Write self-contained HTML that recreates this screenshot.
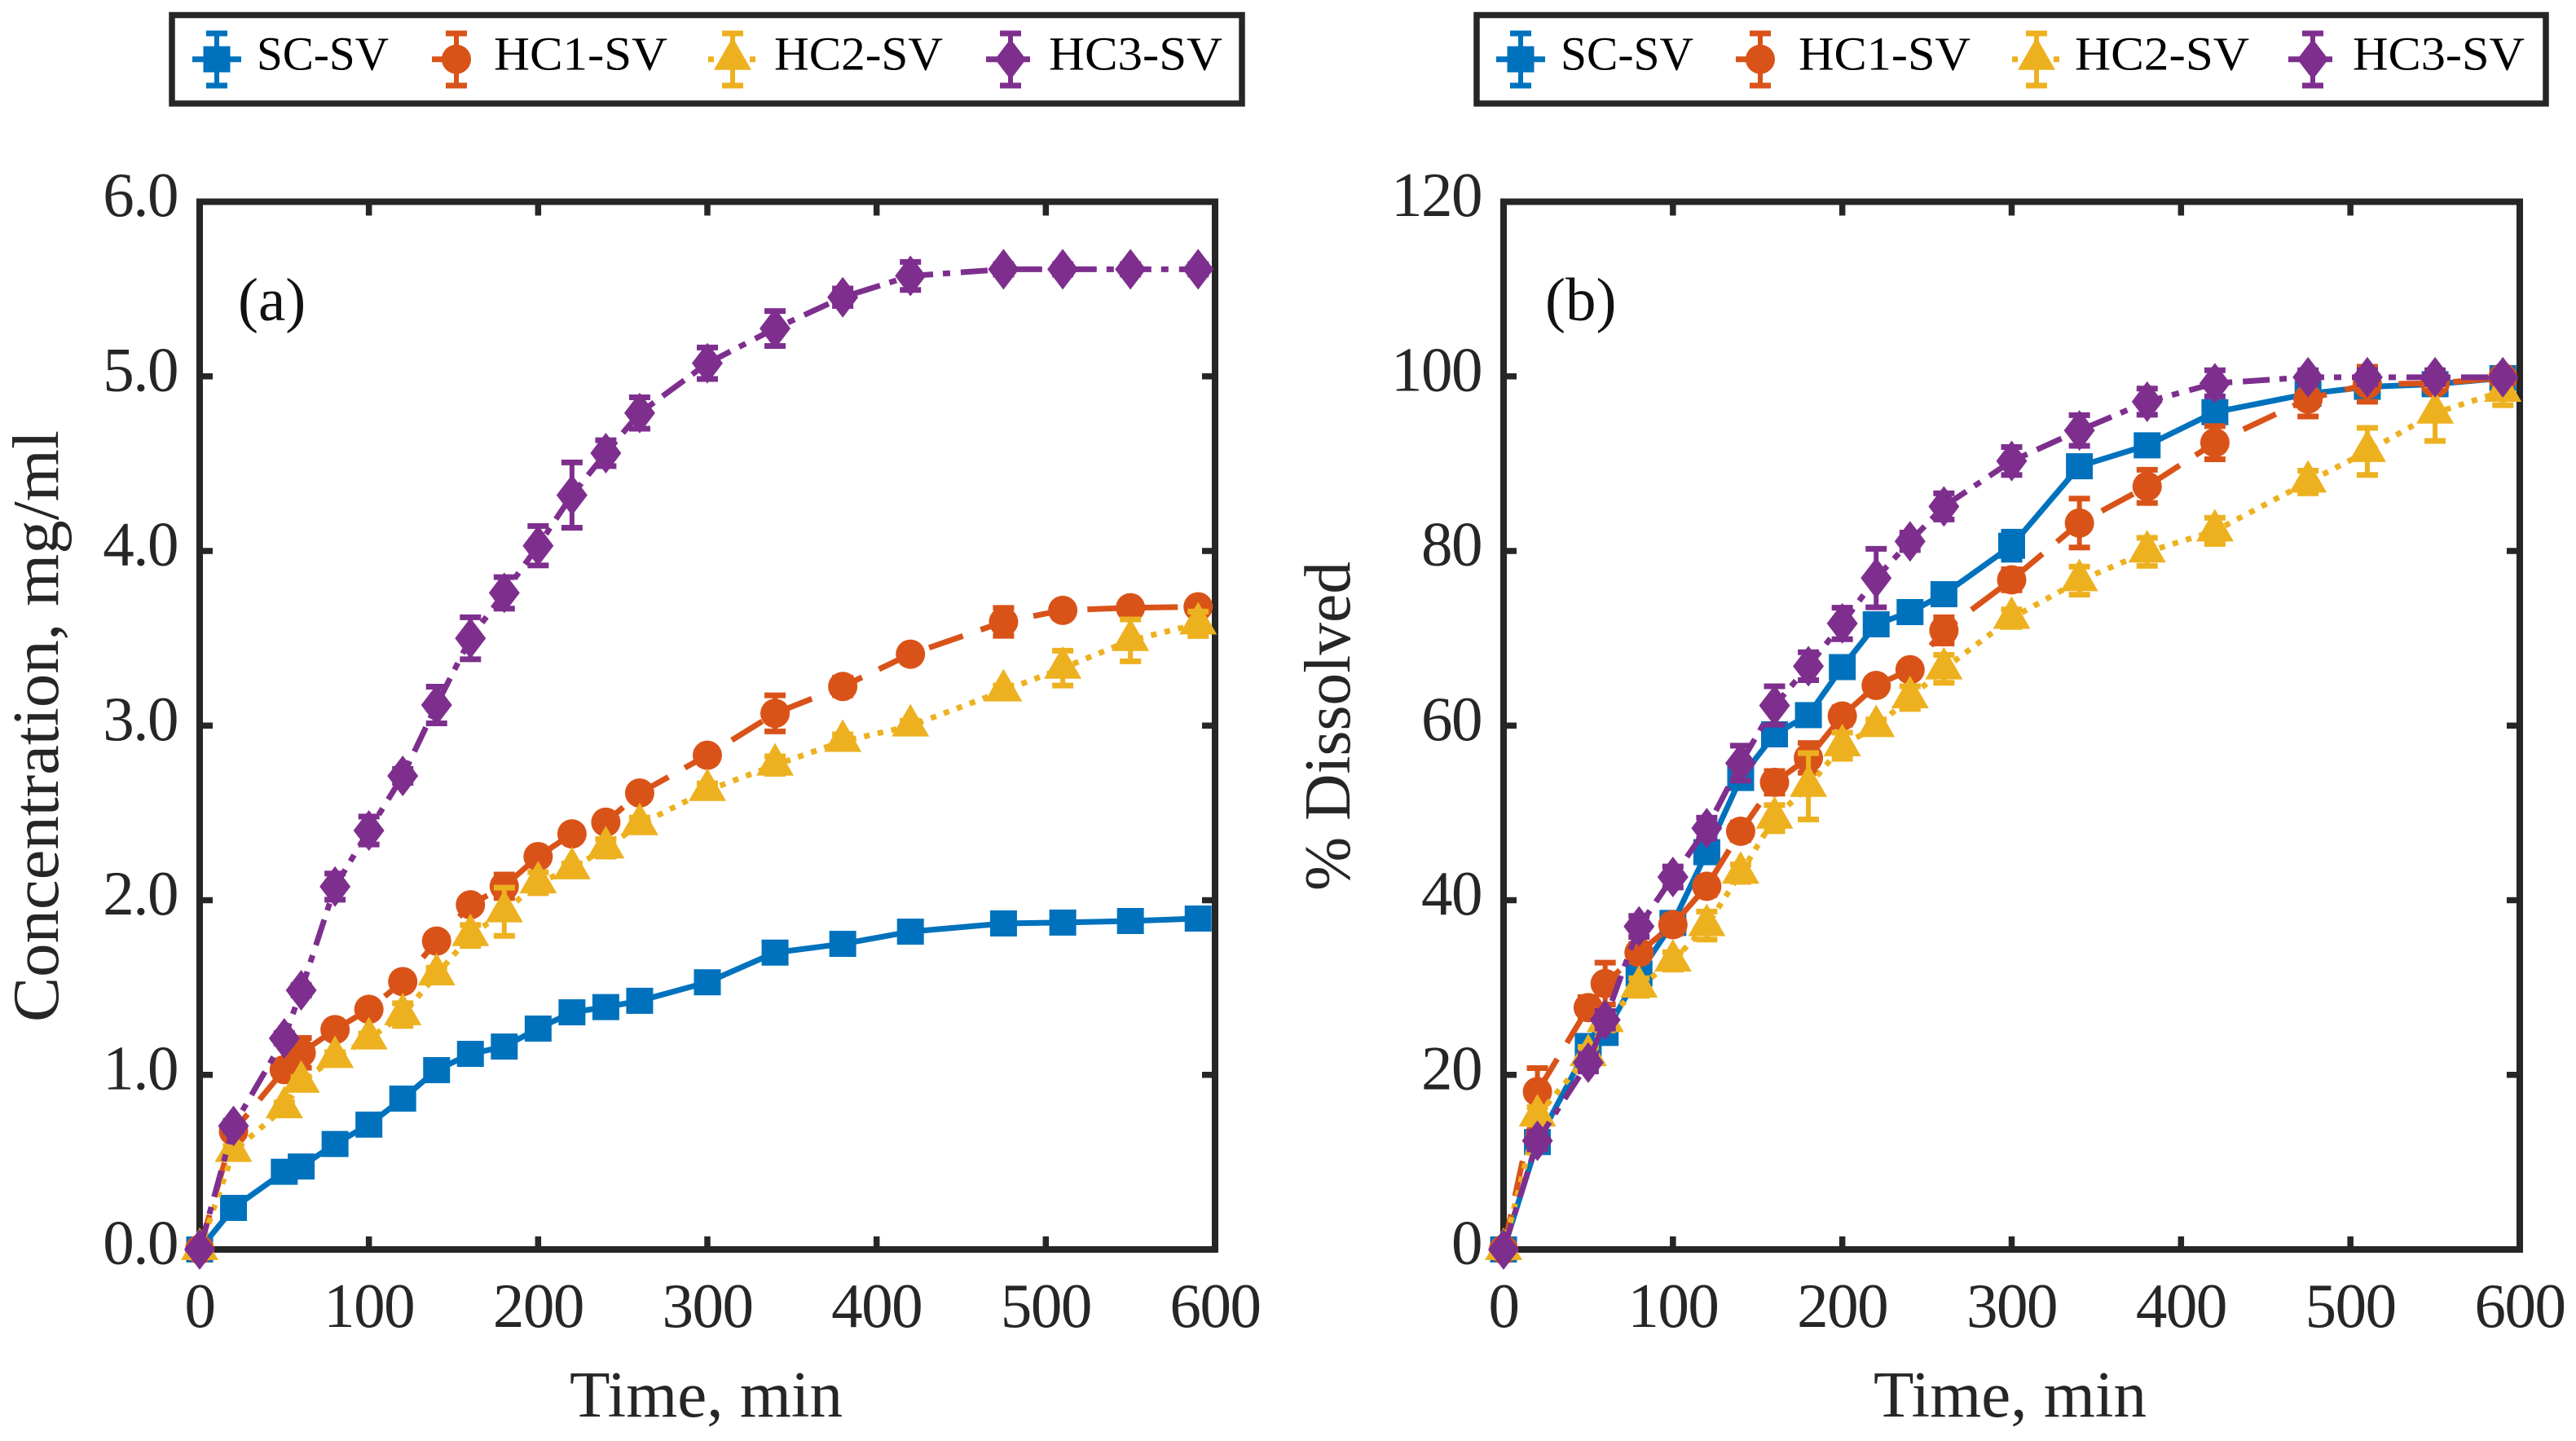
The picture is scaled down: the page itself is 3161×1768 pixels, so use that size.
<!DOCTYPE html>
<html lang="en">
<head>
<meta charset="utf-8">
<title>Concentration and dissolution profiles</title>
<style>
  html,body{margin:0;padding:0;background:#fff;width:3161px;height:1768px;overflow:hidden}
  svg{display:block}
  text{font-family:"Liberation Serif",serif}
</style>
</head>
<body>
<svg id="fig" xmlns="http://www.w3.org/2000/svg" width="3161" height="1768" viewBox="0 0 3161 1768"></svg>
<script>
const times = [0,20,50,60,80,100,120,140,160,180,200,220,240,260,300,340,380,420,475,510,550,590];

const concSC  = [0,0.238,0.445,0.475,0.604,0.715,0.864,1.027,1.12,1.162,1.265,1.358,1.388,1.424,1.53,1.70,1.75,1.82,1.867,1.872,1.881,1.895];
const concHC1 = [0,0.677,1.03,1.126,1.259,1.375,1.534,1.766,1.974,2.08,2.25,2.38,2.447,2.614,2.83,3.07,3.224,3.409,3.594,3.66,3.675,3.68];
const concHC2 = [0,0.562,0.812,0.958,1.10,1.206,1.345,1.573,1.798,1.934,2.10,2.18,2.30,2.433,2.629,2.774,2.91,2.998,3.199,3.329,3.488,3.583];
const concHC3 = [0,0.707,1.209,1.484,2.078,2.399,2.712,3.118,3.50,3.76,4.03,4.32,4.56,4.79,5.075,5.274,5.453,5.575,5.613,5.613,5.613,5.613];

const concErrSC  = [0,0.02,0.03,0.02,0.02,0.02,0.03,0.03,0.03,0.03,0.03,0.03,0.03,0.03,0.03,0.03,0.03,0.03,0.03,0.02,0.02,0.02];
const concErrHC1 = [0,0.03,0.04,0.085,0.03,0.03,0.03,0.04,0.03,0.067,0.03,0.03,0.03,0.04,0.03,0.103,0.05,0.03,0.08,0.04,0.03,0.03];
const concErrHC2 = [0,0.03,0.03,0.03,0.03,0.03,0.065,0.04,0.06,0.138,0.06,0.03,0.05,0.04,0.04,0.05,0.04,0.03,0.03,0.10,0.12,0.07];
const concErrHC3 = [0,0.03,0.03,0.03,0.075,0.08,0.04,0.105,0.12,0.09,0.113,0.187,0.074,0.09,0.09,0.10,0.05,0.08,0.03,0.03,0.03,0.03];

const dissSC  = [0,12.3,23.3,24.8,31.6,37.4,45.5,54,59,61.2,66.7,71.6,73,75.05,80.6,89.7,92.1,95.9,98,98.8,99.1,99.8];
const dissHC1 = [0,18.07,27.7,30.45,34,37.2,41.6,47.9,53.5,56.3,61.1,64.6,66.4,70.9,76.7,83.2,87.4,92.4,97.4,99.1,99.2,99.85];
const dissHC2 = [0,15.3,22.2,26.1,30.06,33.05,37.1,43.1,49.4,53.05,57.7,59.9,63.2,66.5,72.3,76.6,79.9,82.3,87.9,91.4,95.8,98.3];
const dissHC3 = [0,12.45,21.4,26.3,37,42.66,48.25,55.7,62.3,66.8,71.7,76.9,81.1,85.1,90.3,93.8,97.1,99.2,99.9,99.9,99.9,99.9];

const dissErrSC  = [0,1,1,1,1,1,1,1,1,1,1,1,0.8,0.8,1.6,1,1,1,1,0.8,0.6,0.6];
const dissErrHC1 = [0,2.7,1.2,2.4,1,1,1,1,1.3,1.7,1,0.8,0.8,1.5,1.2,2.8,1.9,1.9,2,2,0.6,0.4];
const dissErrHC2 = [0,1,1,1,1,1,1.6,1,1.5,3.8,1.5,0.8,1.3,1.6,1,1.6,1.6,1.5,1.3,2.7,3.2,1.6];
const dissErrHC3 = [0,1,1,1,1.2,1.2,1.2,2,2.2,1.6,1.8,3.35,1,1.5,1.6,1.76,1.5,1.5,0.8,0.8,0.8,0.6];

const xTickLabels = ["0","100","200","300","400","500","600"];
const xTickValues = [0,100,200,300,400,500,600];
const concTickLabels = ["0.0","1.0","2.0","3.0","4.0","5.0","6.0"];
const concTickValues = [0,1,2,3,4,5,6];
const dissTickLabels = ["0","20","40","60","80","100","120"];
const dissTickValues = [0,20,40,60,80,100,120];
const seriesNames = ["SC-SV","HC1-SV","HC2-SV","HC3-SV"];

const SVGNS = "http://www.w3.org/2000/svg";
const INK = "#262626";
const STYLES = [
  {color:"#0072BD", dash:"", marker:"square"},
  {color:"#D95319", dash:"44 23", marker:"circle"},
  {color:"#EDB120", dash:"7 10", marker:"triangle"},
  {color:"#7E2F8E", dash:"33 12 9 13", marker:"diamond"}
];
const fig = document.getElementById("fig");

function mk(tag, attrs, parent, txt){
  const e = document.createElementNS(SVGNS, tag);
  for (const k in attrs) e.setAttribute(k, attrs[k]);
  if (txt !== undefined) e.textContent = txt;
  (parent || fig).appendChild(e);
  return e;
}

function drawMarker(parent, kind, cx, cy, color){
  let m;
  if (kind === "square") m = mk("rect",{x:cx-16.5,y:cy-16,width:33,height:32,fill:color},parent);
  if (kind === "circle") m = mk("ellipse",{cx:cx,cy:cy,rx:18,ry:18,fill:color},parent);
  if (kind === "triangle") m = mk("polygon",{points:`${cx},${cy-27} ${cx+23},${cy+13} ${cx-23},${cy+13}`,fill:color},parent);
  if (kind === "diamond") m = mk("polygon",{points:`${cx},${cy-25} ${cx+19},${cy} ${cx},${cy+25} ${cx-19},${cy}`,fill:color},parent);
  return m;
}

function drawErrorBar(parent, cx, yLo, yHi, color){
  const g = mk("g",{},parent);
  mk("line",{x1:cx,x2:cx,y1:yLo,y2:yHi,stroke:color,"stroke-width":6},g);
  mk("line",{x1:cx-13,x2:cx+13,y1:yLo,y2:yLo,stroke:color,"stroke-width":7},g);
  mk("line",{x1:cx-13,x2:cx+13,y1:yHi,y2:yHi,stroke:color,"stroke-width":7},g);
  return g;
}

function drawPanel(cfg){
  const panel = mk("g",{});
  
  
  const L = cfg.left, R = cfg.right, T = 247.5, B = 1533;
  const sx = v => L + (v / 600) * (R - L);
  const sy = v => B - (v / cfg.yMax) * (B - T);

  const ticks = mk("g",{},panel);
  
  
  xTickValues.forEach(v => {
    mk("line",{x1:sx(v),x2:sx(v),y1:B,y2:B-16,stroke:INK,"stroke-width":7.5},ticks);
    mk("line",{x1:sx(v),x2:sx(v),y1:T,y2:T+17,stroke:INK,"stroke-width":7.5},ticks);
  });
  cfg.yTicks.forEach(v => {
    mk("line",{x1:L,x2:L+16,y1:sy(v),y2:sy(v),stroke:INK,"stroke-width":7.5},ticks);
    mk("line",{x1:R,x2:R-16,y1:sy(v),y2:sy(v),stroke:INK,"stroke-width":7.5},ticks);
  });

  const frame = mk("rect",{x:L,y:T,width:R-L,height:B-T,fill:"none",stroke:INK,"stroke-width":8},panel);
  
  

  xTickLabels.forEach((t,i) => {
    const e = mk("text",{x:sx(xTickValues[i]),y:1628,"text-anchor":"middle","font-size":77,"letter-spacing":"-1.5",fill:INK},panel,t);
    
    
  });
  cfg.yLabels.forEach((t,i) => {
    const e = mk("text",{x:L-27,y:sy(cfg.yTicks[i])+17.6,"text-anchor":"end","font-size":77,"letter-spacing":"-1.5",fill:INK},panel,t);
    
    
  });

  cfg.series.forEach((vals,i) => {
    const st = STYLES[i];
    const errs = cfg.errors[i];
    const g = mk("g",{},panel);
    
    
    const line = mk("polyline",{
      points: vals.map((v,k) => sx(times[k]) + "," + sy(v)).join(" "),
      fill:"none", stroke:st.color, "stroke-width":7, "stroke-linejoin":"miter"
    },g);
    if (st.dash) line.setAttribute("stroke-dasharray", st.dash);
    
    
    vals.forEach((v,k) => {
      if (errs[k] > 0) {
        const eb = drawErrorBar(g, sx(times[k]), sy(v - errs[k]), sy(v + errs[k]), st.color);
        
        
      }
      const m = drawMarker(g, st.marker, sx(times[k]), sy(v), st.color);
      
      
    });
  });

  const xt = mk("text",{x:cfg.xTitleX,y:1738,"font-size":80,fill:INK,textLength:335,lengthAdjust:"spacingAndGlyphs"},panel,"Time, min");
  
  
  const yt = mk("text",{transform:`translate(${cfg.yTitleX},${cfg.yTitleC}) rotate(-90)`,"text-anchor":"middle","font-size":80,fill:INK,textLength:cfg.yTitleLen,lengthAdjust:"spacingAndGlyphs"},panel,cfg.yTitle);
  
  
  const tag = mk("text",{x:cfg.tagX,y:393,"font-size":75,fill:"#111"},panel,cfg.tag);
  
  

  const lg = mk("g",{},panel);
  
  
  mk("rect",{x:cfg.legendX,y:18.5,width:cfg.legendW,height:108.5,fill:"#fff",stroke:INK,"stroke-width":7.5},lg);
  cfg.legendItems.forEach((it,i) => {
    const st = STYLES[i];
    const en = mk("g",{},lg);
    
    
    const s = mk("line",{x1:it.lx,x2:it.lx+60,y1:72.7,y2:72.7,stroke:st.color,"stroke-width":7},en);
    if (st.dash) s.setAttribute("stroke-dasharray", st.dash);
    drawErrorBar(en, it.cx, 41, 105, st.color);
    drawMarker(en, st.marker, it.cx, 72.7, st.color);
    mk("text",{x:it.tx,y:85.7,"font-size":58,fill:"#000",textLength:it.tw,lengthAdjust:"spacingAndGlyphs"},en,seriesNames[i]);
  });
}

drawPanel({
  name:"panel-a", left:245, right:1491, yMax:6,
  yTicks:concTickValues, yLabels:concTickLabels,
  series:[concSC,concHC1,concHC2,concHC3],
  errors:[concErrSC,concErrHC1,concErrHC2,concErrHC3],
  xTitleX:699, yTitle:"Concentration, mg/ml", yTitleX:71, yTitleC:891, yTitleLen:726,
  tag:"(a)", tagX:292, legendX:211, legendW:1313,
  legendItems:[
    {lx:236,cx:266,tx:315,tw:162},
    {lx:530,cx:560,tx:606,tw:213},
    {lx:869,cx:899,tx:950,tw:207},
    {lx:1210,cx:1240,tx:1287,tw:213}
  ]
});
drawPanel({
  name:"panel-b", left:1845, right:3092, yMax:120,
  yTicks:dissTickValues, yLabels:dissTickLabels,
  series:[dissSC,dissHC1,dissHC2,dissHC3],
  errors:[dissErrSC,dissErrHC1,dissErrHC2,dissErrHC3],
  xTitleX:2299, yTitle:"% Dissolved", yTitleX:1656, yTitleC:891, yTitleLen:404,
  tag:"(b)", tagX:1896, legendX:1812, legendW:1312,
  legendItems:[
    {lx:1836,cx:1866,tx:1915,tw:163},
    {lx:2130,cx:2160,tx:2207,tw:211},
    {lx:2469,cx:2499,tx:2546,tw:214},
    {lx:2808,cx:2838,tx:2887,tw:211}
  ]
});
</script>
</body>
</html>
